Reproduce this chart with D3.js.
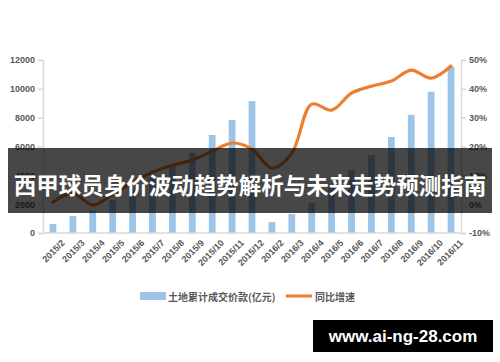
<!DOCTYPE html>
<html><head><meta charset="utf-8">
<script src="https://cdn.jsdelivr.net/npm/d3@7/dist/d3.min.js"></script>
<style>
html,body{margin:0;padding:0;background:#fff;}
svg{display:block;}
</style></head>
<body>
<svg id="chart" width="500" height="362"></svg>
<script>
const categories = ["2015/2","2015/3","2015/4","2015/5","2015/6","2015/7","2015/8","2015/9","2015/10","2015/11","2015/12",
  "2016/2","2016/3","2016/4","2016/5","2016/6","2016/7","2016/8","2016/9","2016/10","2016/11"];
const landValue = [624,1180,1550,2290,3000,3800,4650,5550,6800,7840,9150,
  760,1320,2100,3200,4370,5410,6660,8190,9800,11530];
const yoyGrowth = [0.7,3.8,-0.3,3.5,7.6,11.1,13.5,15.3,18.4,21.2,19.1,
  12.5,17.7,34.7,32.6,38.5,40.9,42.7,46.5,43.7,47.9];
const leftTicks = [0,2000,4000,6000,8000,10000,12000];
const rightTicks = [-10,0,10,20,30,40,50];
const seriesNames = ["土地累计成交价款(亿元)","同比增速"];
const titleText = "西甲球员身价波动趋势解析与未来走势预测指南";
const watermarkText = "www.ai-ng-28.com";

(function(){
const svg = d3.select("#chart");
const pL = 43, pR = 461, pT = 60, pB = 233;
const gray = "#d9d9d9", txt = "#595959";
const blue = "#9dc3e6", orange = "#ed7d31";

const x = d3.scaleBand().domain(categories).range([pL, pR]).paddingInner(0.66).paddingOuter(0.33);
const yL = d3.scaleLinear().domain([0,12000]).range([pB, pT]);
const yR = d3.scaleLinear().domain([-10,50]).range([pB, pT]);

// bars
svg.append("g").selectAll("rect").data(landValue).join("rect")
  .attr("x",(d,i)=>x(categories[i])).attr("width",x.bandwidth())
  .attr("y",d=>yL(d)).attr("height",d=>pB-yL(d)).attr("fill",blue);

// line
const line = d3.line().x((d,i)=>x(categories[i])+x.bandwidth()/2).y(d=>yR(d)).curve(d3.curveCatmullRom.alpha(0.5));
svg.append("path").datum(yoyGrowth).attr("d",line).attr("fill","none")
  .attr("stroke",orange).attr("stroke-width",3.2).attr("stroke-linecap","round");

// axes
const fontNum = "'Liberation Sans', Arial, sans-serif";
const gL = svg.append("g").attr("transform",`translate(${pL},0)`)
  .call(d3.axisLeft(yL).tickValues(leftTicks).tickSize(5).tickPadding(3).tickFormat(d3.format("d")));
const gR = svg.append("g").attr("transform",`translate(${pR},0)`)
  .call(d3.axisRight(yR).tickValues(rightTicks).tickSize(5).tickPadding(3).tickFormat(d=>d+"%"));
const gB = svg.append("g").attr("transform",`translate(0,${pB})`)
  .call(d3.axisBottom(x).tickSize(0).tickPadding(6));
[gL,gR,gB].forEach(g=>{
  g.select(".domain").attr("stroke",gray).attr("stroke-width",1.5);
  g.selectAll(".tick line").attr("stroke",gray).attr("stroke-width",1.5);
  g.selectAll("text").attr("fill",txt).attr("font-family",fontNum).attr("font-weight","bold").attr("font-size",9);
});
gB.select(".domain").attr("d",`M${pL},0H${pR}`);
gB.selectAll(".tick text").attr("text-anchor","end").attr("dy","0.35em")
  .attr("transform","translate(6,4) rotate(-45)");

// legend
const lg = svg.append("g").attr("font-family","'Noto Sans CJK SC', sans-serif").attr("font-size",10).attr("font-weight","bold").attr("fill",txt);
lg.append("rect").attr("x",140).attr("y",292).attr("width",26).attr("height",8).attr("fill",blue);
lg.append("text").attr("x",168).attr("y",296).attr("dominant-baseline","central").text(seriesNames[0]);
lg.append("line").attr("x1",286).attr("x2",312).attr("y1",296).attr("y2",296).attr("stroke",orange).attr("stroke-width",3);
lg.append("text").attr("x",315).attr("y",296).attr("dominant-baseline","central").text(seriesNames[1]);

// title band
svg.append("rect").attr("x",8).attr("y",148).attr("width",484).attr("height",65).attr("fill","#000").attr("opacity",0.72);
svg.append("text").attr("x",250).attr("y",184).attr("text-anchor","middle").attr("dominant-baseline","central")
  .attr("font-family","'Noto Sans CJK SC', sans-serif").attr("font-weight","bold").attr("font-size",22.5)
  .attr("fill","#fff").text(titleText);

// watermark
svg.append("rect").attr("x",313).attr("y",320).attr("width",180).attr("height",32).attr("fill","#000");
svg.append("text").attr("x",403).attr("y",336).attr("text-anchor","middle").attr("dominant-baseline","central")
  .attr("font-family","'Liberation Sans', Arial, sans-serif").attr("font-weight","bold").attr("font-size",17)
  .attr("fill","#fff").text(watermarkText);
})();
</script>
</body></html>
